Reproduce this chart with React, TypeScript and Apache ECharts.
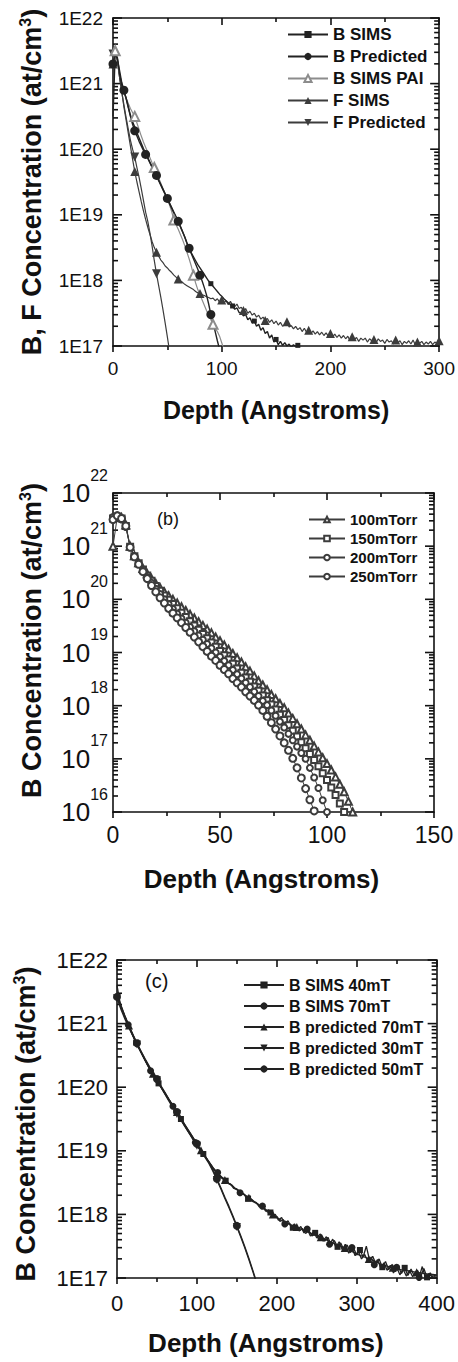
import React, { useEffect, useRef } from "react";
import * as echarts from "echarts";

// ================= DATA =================
// Values are log10 of concentration (at/cm^3).

// ---- Panel (a): depth grid starts at 0 Å, step 2 Å ----
const aStep = 2;
const aBSims = [
  20.5, 21.45, 21.4, 21.15, 20.98, 20.88, 20.78, 20.65, 20.52, 20.42,
  20.34, 20.25, 20.17, 20.09, 20.01, 19.94, 19.87, 19.8, 19.73, 19.66,
  19.59, 19.52, 19.45, 19.38, 19.31, 19.24, 19.17, 19.1, 19.03, 18.96,
  18.89, 18.82, 18.74, 18.66, 18.57, 18.48, 18.42, 18.36, 18.3, 18.24,
  18.19, 18.14, 18.09, 18.04, 17.99, 17.95, 17.91, 17.87, 17.83, 17.79,
  17.76, 17.72, 17.69, 17.66, 17.63, 17.61, 17.56, 17.58, 17.51, 17.5,
  17.46, 17.48, 17.4, 17.43, 17.35, 17.38, 17.3, 17.33, 17.24, 17.28,
  17.19, 17.22, 17.12, 17.17, 17.06, 17.1, 17.02, 17.07, 17.01, 17.05,
  17.0, 17.03, 16.98, 17.02, 16.99, 17.01,
];
const aBPred = [
  21.3, 21.45, 21.38, 21.2, 21.02, 20.9, 20.78, 20.64, 20.5, 20.38,
  20.28, 20.2, 20.12, 20.05, 19.98, 19.92, 19.86, 19.79, 19.72, 19.66,
  19.6, 19.53, 19.46, 19.39, 19.32, 19.25, 19.18, 19.11, 19.04, 18.97,
  18.9, 18.82, 18.74, 18.66, 18.57, 18.49, 18.41, 18.33, 18.25, 18.17,
  18.08, 17.99, 17.89, 17.78, 17.64, 17.48, 17.36, 17.22, 17.08, 16.95,
];
const aBPai = [
  21.4, 21.5, 21.35, 21.15, 21.0, 20.88, 20.78, 20.7, 20.62, 20.56,
  20.5, 20.4, 20.3, 20.2, 20.11, 20.03, 19.95, 19.87, 19.79, 19.72,
  19.64, 19.56, 19.48, 19.4, 19.32, 19.24, 19.15, 19.05, 18.92, 18.85,
  18.78, 18.7, 18.62, 18.53, 18.43, 18.33, 18.22, 18.08, 17.96, 17.86,
  17.78, 17.7, 17.62, 17.54, 17.47, 17.4, 17.33, 17.27, 17.22, 17.15,
  17.05, 16.95,
];
const aFSims = [
  21.3, 21.5, 21.35, 21.1, 20.88, 20.65, 20.45, 20.25, 20.05, 19.85,
  19.66, 19.5, 19.35, 19.2, 19.06, 18.93, 18.81, 18.7, 18.59, 18.5,
  18.43, 18.37, 18.31, 18.27, 18.22, 18.19, 18.15, 18.12, 18.08, 18.05,
  18.02, 17.99, 17.97, 17.94, 17.92, 17.9, 17.88, 17.86, 17.83, 17.81,
  17.8, 17.78, 17.77, 17.75, 17.74, 17.72, 17.73, 17.69, 17.72, 17.67,
  17.7, 17.66, 17.69, 17.63, 17.68, 17.62, 17.6, 17.64, 17.57, 17.59,
  17.54, 17.57, 17.5, 17.53, 17.47, 17.5, 17.44, 17.47, 17.41, 17.44,
  17.39, 17.42, 17.36, 17.4, 17.34, 17.38, 17.32, 17.36, 17.3, 17.33,
  17.37, 17.29, 17.31, 17.26, 17.3, 17.25, 17.28, 17.22, 17.27, 17.21,
  17.24, 17.19, 17.23, 17.18, 17.22, 17.17, 17.21, 17.16, 17.2, 17.15,
  17.19, 17.14, 17.18, 17.13, 17.17, 17.12, 17.16, 17.11, 17.15, 17.08,
  17.14, 17.1, 17.13, 17.07, 17.12, 17.09, 17.12, 17.06, 17.11, 17.08,
  17.1, 17.05, 17.11, 17.07, 17.09, 17.04, 17.1, 17.06, 17.08, 17.03,
  17.09, 17.05, 17.08, 17.02, 17.07, 17.04, 17.08, 17.03, 17.09, 17.02,
  17.06, 17.04, 17.07, 17.02, 17.06, 17.03, 17.07, 17.02, 17.06, 17.04,
  17.08,
];
const aFPred = [
  21.45, 21.5, 21.35, 21.1, 20.88, 20.68, 20.49, 20.31, 20.14, 20.0,
  19.88, 19.72, 19.57, 19.4, 19.22, 19.04, 18.9, 18.72, 18.52, 18.3,
  18.1, 17.92, 17.74, 17.55, 17.35, 17.14, 16.92,
];

// ---- Panel (b): depth grid starts at 0 Å, step 2 Å ----
const bStep = 2;
const b100 = [
  21.0, 21.55, 21.54, 21.4, 21.0, 20.82, 20.69, 20.58, 20.48, 20.39,
  20.3, 20.22, 20.14, 20.07, 20.0, 19.93, 19.86, 19.79, 19.72, 19.65,
  19.58, 19.51, 19.44, 19.37, 19.29, 19.22, 19.14, 19.06, 18.98, 18.9,
  18.82, 18.73, 18.65, 18.56, 18.47, 18.39, 18.3, 18.21, 18.13, 18.04,
  17.96, 17.86, 17.76, 17.66, 17.56, 17.45, 17.35, 17.24, 17.13, 17.02,
  16.91, 16.79, 16.66, 16.52, 16.38, 16.2, 16.0,
];
const b150 = [
  21.52, 21.56, 21.52, 21.38, 20.99, 20.81, 20.68, 20.56, 20.45, 20.35,
  20.25, 20.16, 20.07, 19.99, 19.91, 19.83, 19.75, 19.67, 19.59, 19.51,
  19.43, 19.35, 19.27, 19.19, 19.11, 19.03, 18.95, 18.87, 18.79, 18.7,
  18.62, 18.53, 18.45, 18.36, 18.28, 18.19, 18.1, 18.02, 17.93, 17.83,
  17.73, 17.63, 17.53, 17.42, 17.31, 17.2, 17.09, 16.98, 16.86, 16.73,
  16.6, 16.46, 16.32, 16.16, 16.0,
];
const b200 = [
  21.55, 21.58, 21.5, 21.36, 20.98, 20.8, 20.67, 20.54, 20.42, 20.31,
  20.2, 20.1, 20.0, 19.91, 19.82, 19.73, 19.64, 19.56, 19.48, 19.4,
  19.32, 19.24, 19.16, 19.08, 19.0, 18.92, 18.84, 18.76, 18.67, 18.59,
  18.51, 18.43, 18.35, 18.26, 18.18, 18.09, 18.01, 17.91, 17.81, 17.7,
  17.59, 17.47, 17.35, 17.23, 17.11, 17.0, 16.83, 16.65, 16.45, 16.22,
  16.0,
];
const b250 = [
  21.5, 21.57, 21.52, 21.38, 20.98, 20.8, 20.66, 20.52, 20.39, 20.26,
  20.14, 20.03, 19.93, 19.83, 19.74, 19.65, 19.56, 19.47, 19.38, 19.29,
  19.2, 19.11, 19.02, 18.93, 18.85, 18.76, 18.68, 18.6, 18.51, 18.43,
  18.35, 18.26, 18.18, 18.1, 18.01, 17.91, 17.8, 17.68, 17.56, 17.43,
  17.3, 17.16, 17.01, 16.83, 16.64, 16.44, 16.23, 16.02,
];

// ---- Panel (c) ----
const cSimsStep = 4; // SIMS 40mT starts at 0 Å, SIMS 70mT at 2 Å
const cSims40 = [
  21.6, 21.32, 21.18, 21.05, 20.93, 20.81, 20.7, 20.6, 20.5, 20.4,
  20.31, 20.22, 20.14, 20.06, 19.98, 19.9, 19.82, 19.74, 19.66, 19.58,
  19.5, 19.41, 19.33, 19.25, 19.17, 19.1, 19.02, 18.95, 18.88, 18.8,
  18.73, 18.68, 18.62, 18.56, 18.53, 18.48, 18.46, 18.4, 18.38, 18.33,
  18.31, 18.25, 18.24, 18.19, 18.17, 18.11, 18.1, 18.04, 18.03, 17.96,
  17.97, 17.89, 17.92, 17.84, 17.86, 17.79, 17.83, 17.74, 17.78, 17.7,
  17.75, 17.66, 17.71, 17.62, 17.68, 17.58, 17.64, 17.52, 17.59, 17.49,
  17.55, 17.44, 17.52, 17.4, 17.47, 17.36, 17.44, 17.33, 17.5, 17.28,
  17.34, 17.22, 17.3, 17.17, 17.26, 17.13, 17.21, 17.1, 17.18, 17.07,
  17.16, 17.04, 17.14, 17.03, 17.12, 17.02, 17.15, 17.01, 17.08, 17.0,
  17.05,
];
const cSims70 = [
  21.4, 21.22, 21.1, 20.98, 20.86, 20.75, 20.65, 20.55, 20.45, 20.35,
  20.26, 20.18, 20.1, 20.02, 19.94, 19.86, 19.78, 19.7, 19.62, 19.54,
  19.45, 19.37, 19.29, 19.21, 19.13, 19.06, 18.98, 18.91, 18.84, 18.77,
  18.69, 18.66, 18.58, 18.56, 18.49, 18.48, 18.41, 18.4, 18.34, 18.33,
  18.26, 18.26, 18.2, 18.19, 18.12, 18.13, 18.05, 18.07, 17.98, 18.0,
  17.91, 17.95, 17.85, 17.9, 17.8, 17.85, 17.76, 17.81, 17.71, 17.77,
  17.66, 17.73, 17.63, 17.69, 17.58, 17.65, 17.53, 17.61, 17.48, 17.57,
  17.44, 17.53, 17.39, 17.48, 17.35, 17.42, 17.3, 17.37, 17.26, 17.33,
  17.21, 17.29, 17.16, 17.24, 17.12, 17.2, 17.08, 17.17, 17.05, 17.14,
  17.03, 17.12, 17.02, 17.1, 17.01, 17.18, 17.0, 17.07, 17.02, 17.04,
];
const cPredStep = 5; // predicted profiles start at 0 Å
const cPred70 = [
  21.45, 21.28, 21.12, 20.97, 20.83, 20.69, 20.56, 20.44, 20.32, 20.21,
  20.11, 20.01, 19.91, 19.81, 19.71, 19.61, 19.51, 19.41, 19.31, 19.21,
  19.11, 19.01, 18.92, 18.83, 18.74, 18.66, 18.6, 18.54, 18.49, 18.44,
  18.39, 18.35, 18.3, 18.26, 18.22, 18.17, 18.13, 18.09, 18.04, 18.0,
  17.95, 17.91, 17.88, 17.85, 17.82, 17.8, 17.77, 17.74, 17.72, 17.69,
  17.67, 17.64, 17.61, 17.58, 17.55, 17.52, 17.5, 17.47, 17.44, 17.41,
  17.38, 17.35, 17.33, 17.3, 17.28, 17.25, 17.22, 17.2, 17.18, 17.16,
  17.15, 17.13, 17.12, 17.11, 17.1, 17.09, 17.08, 17.07, 17.06, 17.055,
  17.05,
];
const cPred30 = [
  21.4, 21.22, 21.07, 20.93, 20.8, 20.67, 20.55, 20.43, 20.32, 20.21,
  20.11, 20.0, 19.89, 19.78, 19.68, 19.58, 19.48, 19.38, 19.28, 19.18,
  19.08, 18.99, 18.9, 18.8, 18.68, 18.54, 18.4, 18.25, 18.11, 17.96,
  17.8, 17.64, 17.47, 17.29, 17.1, 16.9,
];
const cPred50 = [
  21.42, 21.25, 21.1, 20.95, 20.82, 20.69, 20.57, 20.45, 20.34, 20.23,
  20.13, 20.02, 19.92, 19.81, 19.71, 19.61, 19.51, 19.41, 19.31, 19.21,
  19.11, 19.01, 18.92, 18.82, 18.7, 18.56, 18.42, 18.27, 18.13, 17.98,
  17.82, 17.66, 17.49, 17.31, 17.12, 16.92,
];

// Axis ranges / tick labels
const aDepthMax = 300, aDepthTick = 100;
const bDepthMax = 150, bDepthTick = 50;
const cDepthMax = 400, cDepthTick = 100;
const aDecades = [17, 22];
const bDecades = [16, 22];
const cDecades = [17, 22];

const aNames = ["B SIMS", "B Predicted", "B SIMS PAI", "F SIMS", "F Predicted"];
const bNames = ["100mTorr", "150mTorr", "200mTorr", "250mTorr"];
const cNames = ["B SIMS 40mT", "B SIMS 70mT", "B predicted 70mT", "B predicted 30mT", "B predicted 50mT"];

// ================= CHART =================
const FONT = "'Liberation Sans', Arial, Helvetica, sans-serif";
const INK = "#111";
const TICK = "#111";
const TICK_W = 1.6;

function toPairs(logs: number[], start: number, step: number) {
  return logs.map((v, i) => [start + i * step, Math.pow(10, v)]);
}
function decadeValues(lo: number, hi: number) {
  const out: number[] = [];
  for (let e = lo; e <= hi; e++) out.push(Number("1e" + e));
  return out;
}
// [isMajor, value] for every log tick (decades + 2..9 minors)
function logTickItems(lo: number, hi: number) {
  const out: number[][] = [];
  for (let e = lo; e <= hi; e++) {
    out.push([1, Number("1e" + e)]);
    if (e < hi) for (let k = 2; k <= 9; k++) out.push([0, Number(k + "e" + e)]);
  }
  return out;
}

type Panel = {
  grid: { left: number; top: number; width: number; height: number };
  xMax: number;
  xInterval: number;
  dec: number[];
  xLabelSize: number;
  xLabelMargin: number;
  yLabel: any;
  xNameSize: number;
  xNameGap: number;
  xNamePad: number[];
  yName: string;
  yNameGap: number;
  yNamePad: number[];
};

function panelAxes(g: number, p: Panel) {
  const majors = decadeValues(p.dec[0], p.dec[1]);
  const mkLine = () => ({ show: true, onZero: false, lineStyle: { color: INK, width: 1.6 } });
  const mkTick = () => ({ color: TICK, width: TICK_W });
  const xAxes = [
    {
      type: "value",
      gridIndex: g,
      min: 0,
      max: p.xMax,
      interval: p.xInterval,
      splitLine: { show: false },
      axisLine: mkLine(),
      position: "bottom",
      axisTick: { show: true, inside: false, length: 6, lineStyle: mkTick() },
      minorTick: { show: true, splitNumber: 2, length: 4, lineStyle: mkTick() },
      axisLabel: { show: true, margin: p.xLabelMargin, fontSize: p.xLabelSize, color: INK, fontFamily: FONT },
      name: "Depth (Angstroms)",
      nameLocation: "middle",
      nameGap: p.xNameGap,
      nameTextStyle: {
        fontSize: p.xNameSize,
        fontWeight: "bold",
        color: INK,
        fontFamily: FONT,
        padding: p.xNamePad,
      },
    },
    {
      type: "value",
      gridIndex: g,
      min: 0,
      max: p.xMax,
      interval: p.xInterval,
      splitLine: { show: false },
      axisLine: mkLine(),
      position: "top",
      axisTick: { show: true, inside: true, length: 7, lineStyle: mkTick() },
      minorTick: { show: true, splitNumber: 2, length: 4, lineStyle: mkTick() },
      axisLabel: { show: false },
    },
  ];
  const yAxes = [
    {
      type: "log",
      logBase: 10,
      gridIndex: g,
      min: majors[0],
      max: majors[majors.length - 1],
      splitLine: { show: false },
      axisTick: { show: false },
      position: "left",
      axisLine: mkLine(),
      axisLabel: { show: true, customValues: majors, color: INK, fontFamily: FONT, ...p.yLabel },
      name: p.yName,
      nameLocation: "middle",
      nameRotate: 90,
      nameGap: p.yNameGap,
      nameTextStyle: {
        padding: p.yNamePad,
        rich: {
          t: { fontSize: 27, fontWeight: "bold", fontFamily: FONT, color: INK, lineHeight: 30 },
          s: { fontSize: 16, fontWeight: "bold", fontFamily: FONT, color: INK, lineHeight: 16, verticalAlign: "top" },
        },
      },
    },
    {
      type: "log",
      logBase: 10,
      gridIndex: g,
      min: majors[0],
      max: majors[majors.length - 1],
      splitLine: { show: false },
      axisTick: { show: false },
      position: "right",
      axisLine: mkLine(),
      axisLabel: { show: false },
    },
  ];
  return { xAxes, yAxes };
}

// log-axis ticks (major + 2..9 minor), drawn inward on left and right frame edges
function yTickSeries(g: number, p: Panel) {
  return {
    type: "custom",
    coordinateSystem: "cartesian2d",
    xAxisIndex: 2 * g,
    yAxisIndex: 2 * g,
    silent: true,
    clip: false,
    encode: { x: 0, y: 1 },
    data: logTickItems(p.dec[0], p.dec[1]),
    renderItem: (_params: any, api: any) => {
      const major = api.value(0);
      const v = api.value(1);
      const l = api.coord([0, v]);
      const r = api.coord([p.xMax, v]);
      const len = major ? 9 : 5;
      const st = { stroke: TICK, lineWidth: TICK_W };
      return {
        type: "group",
        children: [
          { type: "line", shape: { x1: l[0], y1: l[1], x2: l[0] + len, y2: l[1] }, style: st },
          { type: "line", shape: { x1: r[0] - len, y1: r[1], x2: r[0], y2: r[1] }, style: st },
        ],
      };
    },
  };
}

type Mark = { symbol: string; size: number; every: number; offset: number; rotate?: number };

function lineSeries(name: string, g: number, data: number[][], color: string, width: number, m: Mark) {
  return {
    type: "line",
    name,
    xAxisIndex: 2 * g,
    yAxisIndex: 2 * g,
    data,
    symbol: m.symbol,
    symbolRotate: m.rotate || 0,
    symbolSize: (_v: any, params: any) => (params.dataIndex % m.every === m.offset ? m.size : 0),
    showAllSymbol: true,
    lineStyle: { color, width },
    itemStyle: { color, borderWidth: 1.1 },
    emphasis: { disabled: true },
    silent: true,
  };
}

function buildOption() {
  const eLabel = {
    fontSize: 19,
    margin: 10,
    formatter: (v: number) => "1E" + Math.round(Math.log10(v)),
  };
  const panels: Panel[] = [
    {
      grid: { left: 113, top: 18, width: 329, height: 328 },
      xMax: aDepthMax,
      xInterval: aDepthTick,
      dec: aDecades,
      xLabelSize: 19,
      xLabelMargin: 13,
      yLabel: eLabel,
      xNameSize: 25,
      xNameGap: 51,
      xNamePad: [0, 0, 0, 0],
      yName: "{t|B, F Concentration (at/cm}{s|3}{t|)}",
      yNameGap: 66,
      yNamePad: [0, 0, 0, 0],
    },
    {
      grid: { left: 113, top: 493, width: 321, height: 319 },
      xMax: bDepthMax,
      xInterval: bDepthTick,
      dec: bDecades,
      xLabelSize: 23,
      xLabelMargin: 11,
      yLabel: {
        margin: 5,
        formatter: (v: number) => "{b|10}{s|" + Math.round(Math.log10(v)) + "}",
        rich: {
          b: { fontSize: 26, lineHeight: 52, verticalAlign: "middle", fontFamily: FONT, color: INK },
          s: { fontSize: 16, lineHeight: 16, verticalAlign: "top", fontFamily: FONT, color: INK },
        },
      },
      xNameSize: 26,
      xNameGap: 54,
      xNamePad: [0, 24, 0, 0],
      yName: "{t|B Concentration (at/cm}{s|3}{t|)}",
      yNameGap: 66,
      yNamePad: [0, 0, 0, 24],
    },
    {
      grid: { left: 117, top: 960, width: 321, height: 318 },
      xMax: cDepthMax,
      xInterval: cDepthTick,
      dec: cDecades,
      xLabelSize: 22,
      xLabelMargin: 14,
      yLabel: { ...eLabel, fontSize: 22, margin: 9 },
      xNameSize: 26,
      xNameGap: 52,
      xNamePad: [0, 22, 0, 0],
      yName: "{t|B Concentration (at/cm}{s|3}{t|)}",
      yNameGap: 76,
      yNamePad: [0, 10, 0, 0],
    },
  ];

  const xAxis: any[] = [];
  const yAxis: any[] = [];
  panels.forEach((p, g) => {
    const a = panelAxes(g, p);
    xAxis.push(...a.xAxes);
    yAxis.push(...a.yAxes);
  });

  const dark = "#222";
  const mid = "#3c3c3c";
  const light = "#8c8c8c";

  const series: any[] = [];
  panels.forEach((p, g) => series.push(yTickSeries(g, p)));
  series.push(
    // panel (a)
    lineSeries(aNames[3], 0, toPairs(aFSims, 0, aStep), mid, 1.2, { symbol: "triangle", size: 9, every: 10, offset: 0 }),
    lineSeries(aNames[4], 0, toPairs(aFPred, 0, aStep), mid, 1.2, { symbol: "triangle", size: 9, every: 10, offset: 0, rotate: 180 }),
    lineSeries(aNames[2], 0, toPairs(aBPai, 0, aStep), light, 1.2, { symbol: "emptyTriangle", size: 9, every: 9, offset: 1 }),
    lineSeries(aNames[0], 0, toPairs(aBSims, 0, aStep), dark, 1.4, { symbol: "rect", size: 5, every: 10, offset: 5 }),
    lineSeries(aNames[1], 0, toPairs(aBPred, 0, aStep), dark, 1.4, { symbol: "circle", size: 9, every: 5, offset: 0 }),
    // panel (b)
    lineSeries(bNames[0], 1, toPairs(b100, 0, bStep), mid, 1, { symbol: "emptyTriangle", size: 7, every: 1, offset: 0 }),
    lineSeries(bNames[1], 1, toPairs(b150, 0, bStep), mid, 1, { symbol: "emptyRect", size: 6, every: 1, offset: 0 }),
    lineSeries(bNames[2], 1, toPairs(b200, 0, bStep), mid, 1, { symbol: "emptyCircle", size: 6, every: 1, offset: 0 }),
    lineSeries(bNames[3], 1, toPairs(b250, 0, bStep), mid, 1, { symbol: "emptyCircle", size: 7, every: 1, offset: 0 }),
    // panel (c)
    lineSeries(cNames[0], 2, toPairs(cSims40, 0, cSimsStep), dark, 1.3, { symbol: "rect", size: 6, every: 7, offset: 6 }),
    lineSeries(cNames[1], 2, toPairs(cSims70, 2, cSimsStep), dark, 1.3, { symbol: "circle", size: 7, every: 7, offset: 3 }),
    lineSeries(cNames[2], 2, toPairs(cPred70, 0, cPredStep), dark, 1.3, { symbol: "triangle", size: 8, every: 6, offset: 3 }),
    lineSeries(cNames[3], 2, toPairs(cPred30, 0, cPredStep), dark, 1.3, { symbol: "triangle", size: 8, every: 5, offset: 0, rotate: 180 }),
    lineSeries(cNames[4], 2, toPairs(cPred50, 0, cPredStep), dark, 1.3, { symbol: "circle", size: 8, every: 5, offset: 0 }),
  );

  const legend = [
    {
      orient: "vertical",
      selectedMode: false,
      padding: 0,
      left: 287,
      top: 26,
      itemWidth: 40,
      itemHeight: 9,
      itemGap: 5,
      textStyle: { fontSize: 17, fontWeight: "bold", color: INK, fontFamily: FONT },
      data: aNames,
    },
    {
      orient: "vertical",
      selectedMode: false,
      padding: 0,
      left: 308,
      top: 512,
      itemWidth: 36,
      itemHeight: 7,
      itemGap: 4,
      textStyle: { fontSize: 15, fontWeight: "bold", color: INK, fontFamily: FONT },
      data: bNames,
    },
    {
      orient: "vertical",
      selectedMode: false,
      padding: 0,
      left: 243,
      top: 977,
      itemWidth: 40,
      itemHeight: 9,
      itemGap: 5,
      textStyle: { fontSize: 16, fontWeight: "bold", color: INK, fontFamily: FONT },
      data: cNames,
    },
  ];

  return {
    animation: false,
    backgroundColor: "#fff",
    grid: panels.map((p) => ({ ...p.grid })),
    xAxis,
    yAxis,
    legend,
    series,
    graphic: [
      { type: "text", left: 157, top: 510, style: { text: "(b)", fontSize: 18, fontFamily: FONT, fill: INK } },
      { type: "text", left: 145, top: 971, style: { text: "(c)", fontSize: 20, fontFamily: FONT, fill: INK } },
    ],
  };
}

export default function App() {
  const ref = useRef<HTMLDivElement>(null);
  useEffect(() => {
    if (!ref.current) return;
    const chart = echarts.init(ref.current, null, { renderer: "svg" });
    chart.setOption(buildOption() as any);
    return () => chart.dispose();
  }, []);
  return (
    <div
      ref={ref}
      style={{ position: "absolute", left: 0, top: 0, width: 458, height: 1362, background: "#fff" }}
    />
  );
}
